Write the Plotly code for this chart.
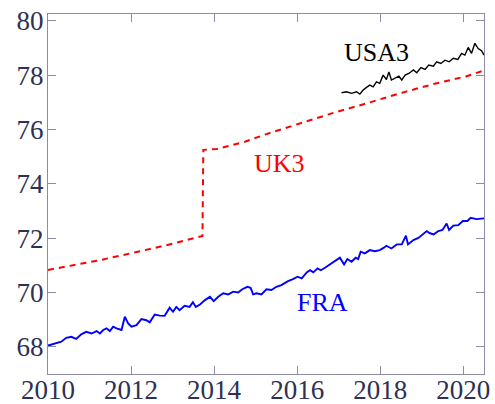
import plotly.graph_objects as go

# ---- data (decimal years) ----
fra_x = [2010.00, 2010.16, 2010.32, 2010.44, 2010.56, 2010.68, 2010.80, 2010.92, 2011.05, 2011.17,
         2011.25, 2011.33, 2011.41, 2011.49, 2011.57, 2011.65, 2011.77, 2011.85, 2011.93, 2012.01,
         2012.13, 2012.25, 2012.37, 2012.45, 2012.57, 2012.69, 2012.81, 2012.93, 2013.01, 2013.09,
         2013.17, 2013.29, 2013.41, 2013.49, 2013.56, 2013.66, 2013.78, 2013.90, 2013.99, 2014.10,
         2014.22, 2014.34, 2014.46, 2014.58, 2014.68, 2014.80, 2014.88, 2014.94, 2015.02, 2015.14,
         2015.26, 2015.38, 2015.50, 2015.62, 2015.78, 2015.90, 2016.01, 2016.11, 2016.23, 2016.31,
         2016.39, 2016.49, 2016.57, 2016.67, 2016.79, 2016.91, 2017.03, 2017.13, 2017.21, 2017.31,
         2017.41, 2017.47, 2017.53, 2017.63, 2017.75, 2017.87, 2017.99, 2018.08, 2018.15, 2018.27,
         2018.40, 2018.52, 2018.62, 2018.67, 2018.80, 2018.92, 2019.02, 2019.12, 2019.20, 2019.29,
         2019.40, 2019.50, 2019.60, 2019.66, 2019.76, 2019.88, 2019.99, 2020.10, 2020.18, 2020.32,
         2020.50]
fra_y = [68.05, 68.13, 68.19, 68.33, 68.37, 68.29, 68.46, 68.55, 68.49, 68.58,
         68.49, 68.62, 68.68, 68.58, 68.74, 68.68, 68.62, 69.11, 68.86, 68.74,
         68.80, 69.02, 68.98, 68.90, 69.19, 69.15, 69.14, 69.44, 69.29, 69.47,
         69.35, 69.51, 69.47, 69.64, 69.47, 69.56, 69.72, 69.84, 69.68, 69.84,
         69.97, 69.93, 70.03, 70.00, 70.12, 70.21, 70.17, 69.93, 69.97, 69.93,
         70.12, 70.09, 70.21, 70.27, 70.42, 70.49, 70.58, 70.52, 70.74, 70.82,
         70.74, 70.89, 70.82, 70.91, 71.03, 71.13, 71.28, 71.03, 71.23, 71.13,
         71.28, 71.23, 71.50, 71.44, 71.56, 71.52, 71.56, 71.64, 71.72, 71.62,
         71.77, 71.77, 72.09, 71.77, 71.93, 72.01, 72.14, 72.26, 72.18, 72.14,
         72.26, 72.30, 72.54, 72.30, 72.46, 72.48, 72.63, 72.63, 72.75, 72.70,
         72.73]

uk3_x = [2010.00, 2010.44, 2011.25, 2012.05, 2012.85, 2013.72, 2013.74, 2014.06, 2014.74, 2015.26,
         2016.07, 2016.87, 2017.67, 2018.47, 2019.28, 2020.08, 2020.50]
uk3_y = [70.83, 70.95, 71.19, 71.46, 71.74, 72.08, 75.25, 75.28, 75.55, 75.83,
         76.22, 76.61, 76.96, 77.33, 77.67, 77.96, 78.17]

usa3_x = [2017.07, 2017.19, 2017.31, 2017.43, 2017.51, 2017.59, 2017.67, 2017.75, 2017.83, 2017.91,
          2017.99, 2018.07, 2018.15, 2018.21, 2018.27, 2018.35, 2018.45, 2018.52, 2018.60, 2018.69,
          2018.80, 2018.88, 2018.98, 2019.08, 2019.17, 2019.28, 2019.36, 2019.46, 2019.56, 2019.66,
          2019.76, 2019.87, 2019.96, 2020.04, 2020.12, 2020.20, 2020.28, 2020.36, 2020.44, 2020.50]
usa3_y = [77.35, 77.39, 77.33, 77.39, 77.30, 77.45, 77.55, 77.63, 77.57, 77.75,
          77.70, 78.00, 77.84, 78.12, 77.82, 77.88, 77.96, 77.82, 78.00, 78.06,
          78.19, 78.09, 78.28, 78.21, 78.37, 78.33, 78.49, 78.43, 78.55, 78.49,
          78.62, 78.58, 78.80, 78.74, 79.02, 78.80, 79.17, 78.98, 78.90, 78.74]

labels = ["USA3", "UK3", "FRA"]
label_x = [2017.9, 2015.58, 2016.6]
label_y = [78.85, 74.76, 69.65]
label_colors = ["#000000", "#ff0000", "#0000ff"]

x_ticks = [2010, 2012, 2014, 2016, 2018, 2020]
y_ticks = [68, 70, 72, 74, 76, 78, 80]

FONT = "'Liberation Serif', 'DejaVu Serif', serif"
AX = "#8c8ca6"
TXT = "#2e3054"

fig = go.Figure()
fig.add_trace(go.Scatter(x=fra_x, y=fra_y, mode="lines", line=dict(color="#0000ff", width=1.9), name="FRA"))
fig.add_trace(go.Scatter(x=uk3_x, y=uk3_y, mode="lines",
                         line=dict(color="#ff0000", width=2, dash="6px,5px"), name="UK3"))
fig.add_trace(go.Scatter(x=usa3_x, y=usa3_y, mode="lines", line=dict(color="#000000", width=1.4), name="USA3"))

for t, xx, yy, c in zip(labels, label_x, label_y, label_colors):
    fig.add_annotation(x=xx, y=yy, xref="x", yref="y", text=t, showarrow=False,
                       font=dict(family=FONT, size=26, color=c))

fig.update_layout(
    width=495, height=404,
    margin=dict(l=48, r=11, t=14, b=30),
    paper_bgcolor="white", plot_bgcolor="white",
    showlegend=False,
    font=dict(family=FONT, size=27, color=TXT),
)
fig.update_xaxes(range=[2010, 2020.5], tickvals=x_ticks, ticktext=[str(v) for v in x_ticks],
                 showgrid=False, zeroline=False, showline=True, linecolor=AX, linewidth=1.3,
                 mirror="allticks", ticks="inside", ticklen=8, tickcolor=AX, tickwidth=1,
                 ticklabelstandoff=-9,
                 tickfont=dict(family=FONT, size=27, color=TXT), automargin=False)
fig.update_yaxes(range=[67, 80.25], tickvals=y_ticks, ticktext=[str(v) for v in y_ticks],
                 showgrid=False, zeroline=False, showline=True, linecolor=AX, linewidth=1.3,
                 mirror="allticks", ticks="inside", ticklen=8, tickcolor=AX, tickwidth=1,
                 ticklabelstandoff=-2,
                 tickfont=dict(family=FONT, size=27, color=TXT), automargin=False)

fig.write_html("out.html", config={"displayModeBar": False},
               post_script="document.body.style.margin='0';document.body.style.overflow='hidden';")
